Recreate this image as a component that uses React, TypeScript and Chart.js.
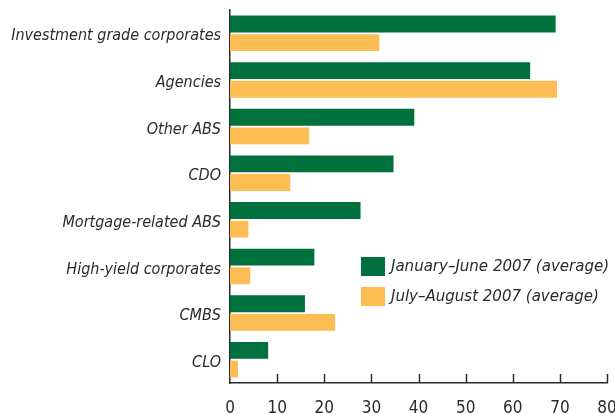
import React, { useEffect, useRef } from "react";
import { Chart, registerables } from "chart.js";

Chart.register(...registerables);

const categories = [
  "Investment grade corporates",
  "Agencies",
  "Other ABS",
  "CDO",
  "Mortgage-related ABS",
  "High-yield corporates",
  "CMBS",
  "CLO",
];
const janJune = [69.1, 63.7, 39.1, 34.7, 27.7, 17.9, 15.9, 8.1];
const julAug = [31.7, 69.4, 16.8, 12.8, 3.9, 4.3, 22.3, 1.7];
const seriesLabels = ["January\u2013June 2007 (average)", "July\u2013August 2007 (average)"];
const xTicks = [0, 10, 20, 30, 40, 50, 60, 70, 80];

const GREEN = "#00703c";
const ORANGE = "#fdbd55";
const TEXT = "#2b2b2b";
const FONT = "'DejaVu Sans Condensed', 'Liberation Sans Narrow', sans-serif";

const innerTicks = {
  id: "innerTicks",
  afterDraw(chart: any) {
    const { ctx, scales } = chart;
    const x = scales.x;
    const bottom = chart.chartArea.bottom;
    ctx.save();
    ctx.strokeStyle = TEXT;
    ctx.lineWidth = 1.5;
    xTicks.forEach((v) => {
      if (v === 0) return;
      const px = Math.round(x.getPixelForValue(v)) + 0.5;
      ctx.beginPath();
      ctx.moveTo(px, bottom);
      ctx.lineTo(px, bottom - 9);
      ctx.stroke();
    });
    ctx.restore();
  },
};

const customLegend = {
  id: "customLegend",
  afterDraw(chart: any) {
    const { ctx } = chart;
    const items = chart.data.datasets;
    const bx = 361;
    const tops = [257, 287];
    ctx.save();
    ctx.font = `italic 16.7px ${FONT}`;
    ctx.textBaseline = "middle";
    ctx.textAlign = "left";
    items.forEach((ds: any, i: number) => {
      ctx.fillStyle = ds.backgroundColor;
      ctx.fillRect(bx, tops[i], 24, 19);
      ctx.fillStyle = TEXT;
      ctx.fillText(ds.label, bx + 30, tops[i] + 10);
    });
    ctx.restore();
  },
};

export default function App() {
  const ref = useRef<HTMLCanvasElement>(null);
  useEffect(() => {
    if (!ref.current) return;
    const chart = new Chart(ref.current, {
      type: "bar",
      data: {
        labels: categories,
        datasets: [
          { label: seriesLabels[0], data: janJune, backgroundColor: GREEN },
          { label: seriesLabels[1], data: julAug, backgroundColor: ORANGE },
        ],
      },
      options: {
        indexAxis: "y",
        animation: false,
        responsive: false,
        maintainAspectRatio: false,
        layout: { padding: { top: 10, right: 8, left: 0, bottom: 0 } },
        datasets: { bar: { categoryPercentage: 0.8, barPercentage: 0.9 } },
        plugins: { legend: { display: false }, tooltip: { enabled: false } },
        scales: {
          x: {
            min: 0,
            max: 80,
            afterBuildTicks: (scale: any) => {
              scale.ticks = xTicks.map((v) => ({ value: v }));
            },
            afterFit: (scale: any) => {
              scale.height = 31;
              scale.paddingRight = 0;
              scale.paddingLeft = 0;
            },
            grid: { display: false, drawTicks: false },
            border: { display: true, color: TEXT, width: 1.5 },
            ticks: {
              color: TEXT,
              font: { family: FONT, size: 17 },
              padding: 15,
              maxRotation: 0,
            },
          },
          y: {
            afterFit: (scale: any) => {
              scale.width = 230;
              scale.paddingTop = 0;
              scale.paddingBottom = 0;
            },
            grid: { display: false, drawTicks: false },
            border: { display: true, color: TEXT, width: 1.5 },
            ticks: {
              color: TEXT,
              font: { family: FONT, size: 16, style: "italic" },
              padding: 9,
              labelOffset: 3,
            },
          },
        },
      },
      plugins: [innerTicks, customLegend],
    });
    return () => chart.destroy();
  }, []);
  return (
    <div style={{ position: "fixed", left: 0, top: 0, width: 615, height: 414, background: "#fff" }}>
      <canvas ref={ref} width={615} height={414} style={{ width: 615, height: 414 }} />
    </div>
  );
}
